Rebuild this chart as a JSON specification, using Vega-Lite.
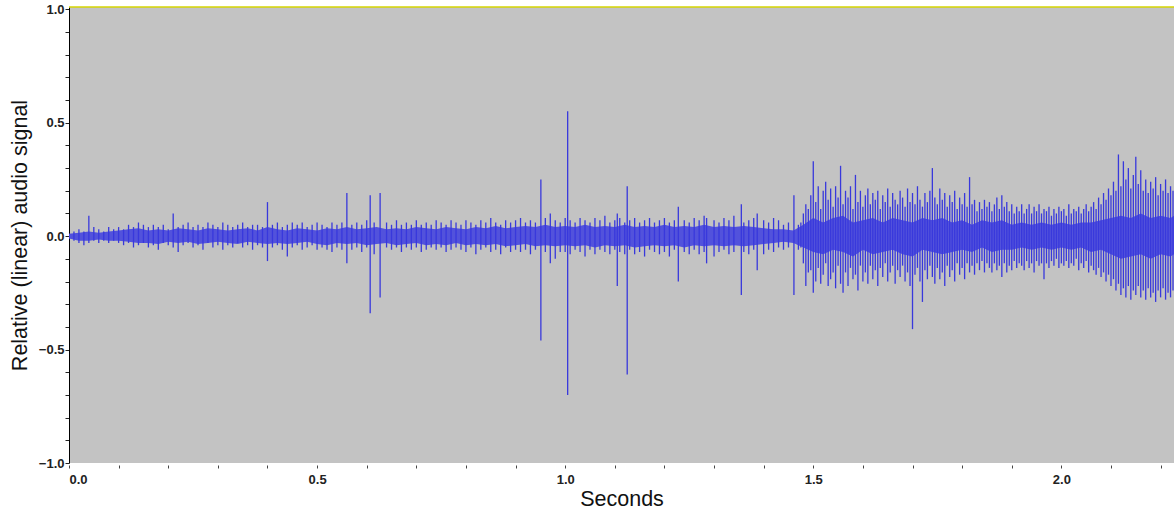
{
"$schema":"https://vega.github.io/schema/vega-lite/v6.json",
"width":1105,"height":456,
"autosize":{"type":"none"},
"padding":{"left":69,"top":7,"right":0,"bottom":52},
"background":"#ffffff",
"config":{"view":{"fill":"#c3c3c3","stroke":null}},
"datasets":{
"c":[
{"t":0.00,"hi":0.01,"lo":-0.01},{"t":0.02,"hi":0.015,"lo":-0.02},{"t":0.04,"hi":0.02,"lo":-0.02},{"t":0.06,"hi":0.015,"lo":-0.015},{"t":0.08,"hi":0.02,"lo":-0.02},{"t":0.10,"hi":0.025,"lo":-0.02},{"t":0.12,"hi":0.03,"lo":-0.025},{"t":0.14,"hi":0.035,"lo":-0.03},{"t":0.16,"hi":0.025,"lo":-0.03},{"t":0.18,"hi":0.03,"lo":-0.035},{"t":0.20,"hi":0.025,"lo":-0.025},{"t":0.22,"hi":0.035,"lo":-0.03},{"t":0.24,"hi":0.03,"lo":-0.025},{"t":0.26,"hi":0.025,"lo":-0.035},{"t":0.28,"hi":0.035,"lo":-0.03},{"t":0.30,"hi":0.03,"lo":-0.025},{"t":0.32,"hi":0.025,"lo":-0.03},{"t":0.34,"hi":0.03,"lo":-0.035},{"t":0.36,"hi":0.035,"lo":-0.025},{"t":0.38,"hi":0.025,"lo":-0.03},{"t":0.40,"hi":0.04,"lo":-0.035},{"t":0.42,"hi":0.03,"lo":-0.03},{"t":0.44,"hi":0.025,"lo":-0.035},{"t":0.46,"hi":0.035,"lo":-0.03},{"t":0.48,"hi":0.03,"lo":-0.025},{"t":0.50,"hi":0.025,"lo":-0.035},{"t":0.52,"hi":0.035,"lo":-0.04},{"t":0.54,"hi":0.03,"lo":-0.03},{"t":0.56,"hi":0.04,"lo":-0.035},{"t":0.58,"hi":0.03,"lo":-0.03},{"t":0.60,"hi":0.035,"lo":-0.04},{"t":0.62,"hi":0.04,"lo":-0.035},{"t":0.64,"hi":0.03,"lo":-0.03},{"t":0.66,"hi":0.035,"lo":-0.04},{"t":0.68,"hi":0.03,"lo":-0.035},{"t":0.70,"hi":0.04,"lo":-0.03},{"t":0.72,"hi":0.035,"lo":-0.04},{"t":0.74,"hi":0.03,"lo":-0.035},{"t":0.76,"hi":0.04,"lo":-0.04},{"t":0.78,"hi":0.035,"lo":-0.03},{"t":0.80,"hi":0.03,"lo":-0.04},{"t":0.82,"hi":0.04,"lo":-0.035},{"t":0.84,"hi":0.035,"lo":-0.04},{"t":0.86,"hi":0.045,"lo":-0.035},{"t":0.88,"hi":0.035,"lo":-0.045},{"t":0.90,"hi":0.04,"lo":-0.04},{"t":0.92,"hi":0.045,"lo":-0.035},{"t":0.94,"hi":0.04,"lo":-0.045},{"t":0.96,"hi":0.05,"lo":-0.04},{"t":0.98,"hi":0.04,"lo":-0.045},{"t":1.00,"hi":0.045,"lo":-0.04},{"t":1.02,"hi":0.04,"lo":-0.045},{"t":1.04,"hi":0.05,"lo":-0.04},{"t":1.06,"hi":0.04,"lo":-0.05},{"t":1.08,"hi":0.045,"lo":-0.04},{"t":1.10,"hi":0.04,"lo":-0.045},{"t":1.12,"hi":0.05,"lo":-0.04},{"t":1.14,"hi":0.04,"lo":-0.05},{"t":1.16,"hi":0.045,"lo":-0.045},{"t":1.18,"hi":0.04,"lo":-0.04},{"t":1.20,"hi":0.05,"lo":-0.045},{"t":1.22,"hi":0.04,"lo":-0.04},{"t":1.24,"hi":0.045,"lo":-0.05},{"t":1.26,"hi":0.04,"lo":-0.04},{"t":1.28,"hi":0.05,"lo":-0.045},{"t":1.30,"hi":0.04,"lo":-0.04},{"t":1.32,"hi":0.045,"lo":-0.045},{"t":1.34,"hi":0.04,"lo":-0.04},{"t":1.36,"hi":0.045,"lo":-0.045},{"t":1.38,"hi":0.04,"lo":-0.04},{"t":1.40,"hi":0.035,"lo":-0.035},{"t":1.42,"hi":0.03,"lo":-0.03},{"t":1.44,"hi":0.03,"lo":-0.025},{"t":1.46,"hi":0.025,"lo":-0.03},{"t":1.48,"hi":0.05,"lo":-0.05},{"t":1.50,"hi":0.08,"lo":-0.07},{"t":1.52,"hi":0.06,"lo":-0.08},{"t":1.54,"hi":0.08,"lo":-0.06},{"t":1.56,"hi":0.09,"lo":-0.07},{"t":1.58,"hi":0.06,"lo":-0.09},{"t":1.60,"hi":0.07,"lo":-0.06},{"t":1.62,"hi":0.08,"lo":-0.08},{"t":1.64,"hi":0.06,"lo":-0.07},{"t":1.66,"hi":0.08,"lo":-0.06},{"t":1.68,"hi":0.07,"lo":-0.08},{"t":1.70,"hi":0.06,"lo":-0.09},{"t":1.72,"hi":0.08,"lo":-0.06},{"t":1.74,"hi":0.07,"lo":-0.07},{"t":1.76,"hi":0.08,"lo":-0.08},{"t":1.78,"hi":0.06,"lo":-0.07},{"t":1.80,"hi":0.07,"lo":-0.06},{"t":1.82,"hi":0.05,"lo":-0.07},{"t":1.84,"hi":0.07,"lo":-0.05},{"t":1.86,"hi":0.06,"lo":-0.07},{"t":1.88,"hi":0.07,"lo":-0.06},{"t":1.90,"hi":0.05,"lo":-0.06},{"t":1.92,"hi":0.06,"lo":-0.05},{"t":1.94,"hi":0.05,"lo":-0.06},{"t":1.96,"hi":0.06,"lo":-0.05},{"t":1.98,"hi":0.05,"lo":-0.06},{"t":2.00,"hi":0.06,"lo":-0.05},{"t":2.02,"hi":0.05,"lo":-0.06},{"t":2.04,"hi":0.06,"lo":-0.05},{"t":2.06,"hi":0.06,"lo":-0.07},{"t":2.08,"hi":0.07,"lo":-0.06},{"t":2.10,"hi":0.08,"lo":-0.08},{"t":2.12,"hi":0.09,"lo":-0.10},{"t":2.14,"hi":0.08,"lo":-0.09},{"t":2.16,"hi":0.10,"lo":-0.08},{"t":2.18,"hi":0.08,"lo":-0.10},{"t":2.20,"hi":0.09,"lo":-0.08},{"t":2.22,"hi":0.08,"lo":-0.09},{"t":2.227,"hi":0.09,"lo":-0.08}
],
"w":[
{"t":0.00,"hi":0.01,"lo":-0.01},{"t":0.01,"hi":0.02,"lo":-0.02},{"t":0.02,"hi":0.03,"lo":-0.03},{"t":0.03,"hi":0.02,"lo":-0.04},{"t":0.04,"hi":0.09,"lo":-0.03},{"t":0.05,"hi":0.04,"lo":-0.02},{"t":0.06,"hi":0.03,"lo":-0.03},{"t":0.07,"hi":0.02,"lo":-0.02},{"t":0.08,"hi":0.04,"lo":-0.03},{"t":0.09,"hi":0.03,"lo":-0.02},
{"t":0.10,"hi":0.04,"lo":-0.03},{"t":0.11,"hi":0.03,"lo":-0.04},{"t":0.12,"hi":0.05,"lo":-0.03},{"t":0.13,"hi":0.04,"lo":-0.05},{"t":0.14,"hi":0.06,"lo":-0.04},{"t":0.15,"hi":0.05,"lo":-0.03},{"t":0.16,"hi":0.04,"lo":-0.05},{"t":0.17,"hi":0.05,"lo":-0.04},{"t":0.18,"hi":0.04,"lo":-0.06},{"t":0.19,"hi":0.05,"lo":-0.03},
{"t":0.20,"hi":0.03,"lo":-0.04},{"t":0.21,"hi":0.10,"lo":-0.05},{"t":0.22,"hi":0.04,"lo":-0.07},{"t":0.23,"hi":0.05,"lo":-0.04},{"t":0.24,"hi":0.06,"lo":-0.03},{"t":0.25,"hi":0.04,"lo":-0.05},{"t":0.26,"hi":0.05,"lo":-0.04},{"t":0.27,"hi":0.04,"lo":-0.06},{"t":0.28,"hi":0.06,"lo":-0.03},{"t":0.29,"hi":0.05,"lo":-0.05},
{"t":0.30,"hi":0.04,"lo":-0.04},{"t":0.31,"hi":0.06,"lo":-0.06},{"t":0.32,"hi":0.05,"lo":-0.04},{"t":0.33,"hi":0.04,"lo":-0.05},{"t":0.34,"hi":0.05,"lo":-0.03},{"t":0.35,"hi":0.06,"lo":-0.05},{"t":0.36,"hi":0.04,"lo":-0.04},{"t":0.37,"hi":0.05,"lo":-0.06},{"t":0.38,"hi":0.05,"lo":-0.04},{"t":0.39,"hi":0.04,"lo":-0.05},
{"t":0.40,"hi":0.15,"lo":-0.11},{"t":0.41,"hi":0.05,"lo":-0.05},{"t":0.42,"hi":0.06,"lo":-0.04},{"t":0.43,"hi":0.04,"lo":-0.06},{"t":0.44,"hi":0.05,"lo":-0.09},{"t":0.45,"hi":0.06,"lo":-0.05},{"t":0.46,"hi":0.05,"lo":-0.04},{"t":0.47,"hi":0.06,"lo":-0.06},{"t":0.48,"hi":0.04,"lo":-0.05},{"t":0.49,"hi":0.05,"lo":-0.04},
{"t":0.50,"hi":0.06,"lo":-0.06},{"t":0.51,"hi":0.05,"lo":-0.05},{"t":0.52,"hi":0.04,"lo":-0.06},{"t":0.53,"hi":0.06,"lo":-0.07},{"t":0.54,"hi":0.05,"lo":-0.05},{"t":0.55,"hi":0.06,"lo":-0.06},{"t":0.56,"hi":0.19,"lo":-0.12},{"t":0.57,"hi":0.05,"lo":-0.06},{"t":0.58,"hi":0.06,"lo":-0.05},{"t":0.59,"hi":0.05,"lo":-0.07},
{"t":0.60,"hi":0.07,"lo":-0.05},{"t":0.607,"hi":0.18,"lo":-0.34},{"t":0.615,"hi":0.06,"lo":-0.08},{"t":0.627,"hi":0.19,"lo":-0.27},{"t":0.64,"hi":0.06,"lo":-0.05},{"t":0.65,"hi":0.05,"lo":-0.06},{"t":0.66,"hi":0.07,"lo":-0.05},{"t":0.67,"hi":0.05,"lo":-0.07},{"t":0.68,"hi":0.06,"lo":-0.05},{"t":0.69,"hi":0.05,"lo":-0.06},
{"t":0.70,"hi":0.07,"lo":-0.05},{"t":0.71,"hi":0.05,"lo":-0.07},{"t":0.72,"hi":0.06,"lo":-0.06},{"t":0.73,"hi":0.05,"lo":-0.05},{"t":0.74,"hi":0.07,"lo":-0.06},{"t":0.75,"hi":0.06,"lo":-0.05},{"t":0.76,"hi":0.05,"lo":-0.07},{"t":0.77,"hi":0.07,"lo":-0.06},{"t":0.78,"hi":0.06,"lo":-0.05},{"t":0.79,"hi":0.05,"lo":-0.06},
{"t":0.80,"hi":0.07,"lo":-0.07},{"t":0.81,"hi":0.06,"lo":-0.05},{"t":0.82,"hi":0.05,"lo":-0.08},{"t":0.83,"hi":0.07,"lo":-0.06},{"t":0.84,"hi":0.06,"lo":-0.05},{"t":0.85,"hi":0.08,"lo":-0.07},{"t":0.86,"hi":0.06,"lo":-0.06},{"t":0.87,"hi":0.05,"lo":-0.08},{"t":0.88,"hi":0.07,"lo":-0.05},{"t":0.89,"hi":0.06,"lo":-0.07},
{"t":0.90,"hi":0.07,"lo":-0.06},{"t":0.91,"hi":0.08,"lo":-0.07},{"t":0.92,"hi":0.06,"lo":-0.06},{"t":0.93,"hi":0.07,"lo":-0.08},{"t":0.94,"hi":0.06,"lo":-0.06},{"t":0.951,"hi":0.25,"lo":-0.46},{"t":0.96,"hi":0.08,"lo":-0.07},{"t":0.97,"hi":0.10,"lo":-0.12},{"t":0.98,"hi":0.07,"lo":-0.10},{"t":0.99,"hi":0.06,"lo":-0.07},
{"t":1.00,"hi":0.08,"lo":-0.07},{"t":1.005,"hi":0.55,"lo":-0.70},{"t":1.01,"hi":0.07,"lo":-0.08},{"t":1.02,"hi":0.06,"lo":-0.06},{"t":1.03,"hi":0.08,"lo":-0.07},{"t":1.04,"hi":0.07,"lo":-0.09},{"t":1.05,"hi":0.06,"lo":-0.06},{"t":1.06,"hi":0.08,"lo":-0.08},{"t":1.07,"hi":0.07,"lo":-0.06},{"t":1.08,"hi":0.09,"lo":-0.07},
{"t":1.09,"hi":0.06,"lo":-0.08},{"t":1.10,"hi":0.07,"lo":-0.06},{"t":1.105,"hi":0.10,"lo":-0.22},{"t":1.11,"hi":0.08,"lo":-0.07},{"t":1.12,"hi":0.06,"lo":-0.08},{"t":1.125,"hi":0.22,"lo":-0.61},{"t":1.13,"hi":0.07,"lo":-0.06},{"t":1.14,"hi":0.08,"lo":-0.08},{"t":1.15,"hi":0.06,"lo":-0.07},{"t":1.16,"hi":0.07,"lo":-0.09},
{"t":1.17,"hi":0.08,"lo":-0.06},{"t":1.18,"hi":0.06,"lo":-0.07},{"t":1.19,"hi":0.07,"lo":-0.08},{"t":1.20,"hi":0.08,"lo":-0.07},{"t":1.21,"hi":0.06,"lo":-0.09},{"t":1.22,"hi":0.07,"lo":-0.06},{"t":1.228,"hi":0.13,"lo":-0.20},{"t":1.24,"hi":0.07,"lo":-0.07},{"t":1.25,"hi":0.06,"lo":-0.08},{"t":1.26,"hi":0.08,"lo":-0.06},
{"t":1.27,"hi":0.07,"lo":-0.08},{"t":1.28,"hi":0.09,"lo":-0.07},{"t":1.285,"hi":0.08,"lo":-0.12},{"t":1.30,"hi":0.07,"lo":-0.09},{"t":1.31,"hi":0.06,"lo":-0.07},{"t":1.32,"hi":0.08,"lo":-0.06},{"t":1.33,"hi":0.07,"lo":-0.08},{"t":1.34,"hi":0.09,"lo":-0.07},{"t":1.355,"hi":0.14,"lo":-0.26},{"t":1.36,"hi":0.06,"lo":-0.07},
{"t":1.37,"hi":0.07,"lo":-0.08},{"t":1.38,"hi":0.08,"lo":-0.06},{"t":1.387,"hi":0.10,"lo":-0.15},{"t":1.40,"hi":0.07,"lo":-0.08},{"t":1.41,"hi":0.06,"lo":-0.06},{"t":1.42,"hi":0.08,"lo":-0.07},{"t":1.43,"hi":0.07,"lo":-0.05},{"t":1.44,"hi":0.05,"lo":-0.06},{"t":1.45,"hi":0.06,"lo":-0.05},{"t":1.461,"hi":0.18,"lo":-0.26},
{"t":1.47,"hi":0.05,"lo":-0.06},{"t":1.475,"hi":0.06,"lo":-0.05},{"t":1.480,"hi":0.10,"lo":-0.12},{"t":1.485,"hi":0.14,"lo":-0.22},{"t":1.490,"hi":0.12,"lo":-0.16},{"t":1.495,"hi":0.18,"lo":-0.15},{"t":1.500,"hi":0.33,"lo":-0.25},{"t":1.505,"hi":0.15,"lo":-0.20},{"t":1.510,"hi":0.22,"lo":-0.14},{"t":1.515,"hi":0.12,"lo":-0.21},
{"t":1.520,"hi":0.20,"lo":-0.17},{"t":1.525,"hi":0.24,"lo":-0.12},{"t":1.530,"hi":0.16,"lo":-0.22},{"t":1.535,"hi":0.21,"lo":-0.19},{"t":1.540,"hi":0.13,"lo":-0.16},{"t":1.545,"hi":0.22,"lo":-0.23},{"t":1.550,"hi":0.17,"lo":-0.13},{"t":1.555,"hi":0.31,"lo":-0.21},{"t":1.560,"hi":0.14,"lo":-0.25},{"t":1.565,"hi":0.20,"lo":-0.16},
{"t":1.570,"hi":0.17,"lo":-0.22},{"t":1.575,"hi":0.22,"lo":-0.14},{"t":1.580,"hi":0.12,"lo":-0.19},{"t":1.585,"hi":0.27,"lo":-0.17},{"t":1.590,"hi":0.15,"lo":-0.24},{"t":1.595,"hi":0.20,"lo":-0.13},{"t":1.600,"hi":0.13,"lo":-0.20},{"t":1.605,"hi":0.18,"lo":-0.16},{"t":1.610,"hi":0.21,"lo":-0.21},{"t":1.615,"hi":0.14,"lo":-0.13},
{"t":1.620,"hi":0.19,"lo":-0.19},{"t":1.625,"hi":0.16,"lo":-0.15},{"t":1.630,"hi":0.20,"lo":-0.22},{"t":1.635,"hi":0.12,"lo":-0.14},{"t":1.640,"hi":0.18,"lo":-0.18},{"t":1.645,"hi":0.15,"lo":-0.12},{"t":1.650,"hi":0.21,"lo":-0.20},{"t":1.655,"hi":0.13,"lo":-0.16},{"t":1.660,"hi":0.19,"lo":-0.13},{"t":1.665,"hi":0.16,"lo":-0.21},
{"t":1.670,"hi":0.14,"lo":-0.15},{"t":1.675,"hi":0.20,"lo":-0.18},{"t":1.680,"hi":0.17,"lo":-0.13},{"t":1.685,"hi":0.13,"lo":-0.20},{"t":1.690,"hi":0.21,"lo":-0.16},{"t":1.695,"hi":0.15,"lo":-0.22},{"t":1.700,"hi":0.19,"lo":-0.41},{"t":1.705,"hi":0.14,"lo":-0.17},{"t":1.710,"hi":0.22,"lo":-0.14},{"t":1.715,"hi":0.16,"lo":-0.20},
{"t":1.720,"hi":0.13,"lo":-0.29},{"t":1.725,"hi":0.19,"lo":-0.15},{"t":1.730,"hi":0.15,"lo":-0.19},{"t":1.735,"hi":0.20,"lo":-0.13},{"t":1.740,"hi":0.30,"lo":-0.18},{"t":1.745,"hi":0.17,"lo":-0.21},{"t":1.750,"hi":0.14,"lo":-0.14},{"t":1.755,"hi":0.21,"lo":-0.19},{"t":1.760,"hi":0.16,"lo":-0.16},{"t":1.765,"hi":0.19,"lo":-0.22},
{"t":1.770,"hi":0.13,"lo":-0.13},{"t":1.775,"hi":0.18,"lo":-0.18},{"t":1.780,"hi":0.15,"lo":-0.15},{"t":1.785,"hi":0.20,"lo":-0.20},{"t":1.790,"hi":0.12,"lo":-0.12},{"t":1.795,"hi":0.17,"lo":-0.17},{"t":1.800,"hi":0.14,"lo":-0.14},{"t":1.805,"hi":0.19,"lo":-0.19},{"t":1.810,"hi":0.13,"lo":-0.12},{"t":1.815,"hi":0.26,"lo":-0.16},
{"t":1.820,"hi":0.14,"lo":-0.13},{"t":1.825,"hi":0.16,"lo":-0.17},{"t":1.830,"hi":0.11,"lo":-0.12},{"t":1.835,"hi":0.15,"lo":-0.15},{"t":1.840,"hi":0.12,"lo":-0.11},{"t":1.845,"hi":0.16,"lo":-0.16},{"t":1.850,"hi":0.13,"lo":-0.12},{"t":1.855,"hi":0.15,"lo":-0.14},{"t":1.860,"hi":0.11,"lo":-0.16},{"t":1.865,"hi":0.14,"lo":-0.12},
{"t":1.870,"hi":0.17,"lo":-0.15},{"t":1.875,"hi":0.12,"lo":-0.13},{"t":1.880,"hi":0.18,"lo":-0.18},{"t":1.885,"hi":0.13,"lo":-0.12},{"t":1.890,"hi":0.15,"lo":-0.16},{"t":1.895,"hi":0.11,"lo":-0.13},{"t":1.900,"hi":0.14,"lo":-0.15},{"t":1.905,"hi":0.10,"lo":-0.11},{"t":1.910,"hi":0.13,"lo":-0.14},{"t":1.915,"hi":0.11,"lo":-0.12},
{"t":1.920,"hi":0.14,"lo":-0.13},{"t":1.925,"hi":0.10,"lo":-0.15},{"t":1.930,"hi":0.12,"lo":-0.11},{"t":1.935,"hi":0.14,"lo":-0.14},{"t":1.940,"hi":0.10,"lo":-0.12},{"t":1.945,"hi":0.13,"lo":-0.16},{"t":1.950,"hi":0.11,"lo":-0.11},{"t":1.955,"hi":0.14,"lo":-0.13},{"t":1.960,"hi":0.10,"lo":-0.12},{"t":1.965,"hi":0.12,"lo":-0.19},
{"t":1.970,"hi":0.11,"lo":-0.12},{"t":1.975,"hi":0.13,"lo":-0.14},{"t":1.980,"hi":0.09,"lo":-0.11},{"t":1.985,"hi":0.12,"lo":-0.13},{"t":1.990,"hi":0.10,"lo":-0.10},{"t":1.995,"hi":0.13,"lo":-0.14},{"t":2.000,"hi":0.11,"lo":-0.12},{"t":2.005,"hi":0.12,"lo":-0.13},{"t":2.010,"hi":0.09,"lo":-0.11},{"t":2.015,"hi":0.14,"lo":-0.14},
{"t":2.020,"hi":0.10,"lo":-0.12},{"t":2.025,"hi":0.12,"lo":-0.13},{"t":2.030,"hi":0.11,"lo":-0.10},{"t":2.035,"hi":0.13,"lo":-0.15},{"t":2.040,"hi":0.10,"lo":-0.12},{"t":2.045,"hi":0.12,"lo":-0.14},{"t":2.050,"hi":0.14,"lo":-0.11},{"t":2.055,"hi":0.11,"lo":-0.16},{"t":2.060,"hi":0.13,"lo":-0.13},{"t":2.065,"hi":0.15,"lo":-0.15},
{"t":2.070,"hi":0.12,"lo":-0.17},{"t":2.075,"hi":0.17,"lo":-0.14},{"t":2.080,"hi":0.14,"lo":-0.18},{"t":2.085,"hi":0.19,"lo":-0.16},{"t":2.090,"hi":0.16,"lo":-0.20},{"t":2.095,"hi":0.21,"lo":-0.17},{"t":2.100,"hi":0.18,"lo":-0.22},{"t":2.105,"hi":0.24,"lo":-0.19},{"t":2.110,"hi":0.20,"lo":-0.24},{"t":2.115,"hi":0.36,"lo":-0.21},
{"t":2.120,"hi":0.22,"lo":-0.26},{"t":2.125,"hi":0.33,"lo":-0.23},{"t":2.130,"hi":0.25,"lo":-0.27},{"t":2.135,"hi":0.30,"lo":-0.22},{"t":2.140,"hi":0.21,"lo":-0.28},{"t":2.145,"hi":0.27,"lo":-0.24},{"t":2.150,"hi":0.35,"lo":-0.26},{"t":2.155,"hi":0.23,"lo":-0.22},{"t":2.160,"hi":0.29,"lo":-0.27},{"t":2.165,"hi":0.20,"lo":-0.24},
{"t":2.170,"hi":0.25,"lo":-0.28},{"t":2.175,"hi":0.19,"lo":-0.23},{"t":2.180,"hi":0.24,"lo":-0.27},{"t":2.185,"hi":0.21,"lo":-0.25},{"t":2.190,"hi":0.26,"lo":-0.29},{"t":2.195,"hi":0.18,"lo":-0.24},{"t":2.200,"hi":0.23,"lo":-0.27},{"t":2.205,"hi":0.20,"lo":-0.23},{"t":2.210,"hi":0.25,"lo":-0.28},{"t":2.215,"hi":0.19,"lo":-0.25},
{"t":2.220,"hi":0.22,"lo":-0.27},{"t":2.225,"hi":0.20,"lo":-0.24}
]},
"encoding":{
"x":{"field":"t","type":"quantitative","scale":{"domain":[0,2.227],"nice":false,"zero":false},
"axis":{"title":"Seconds","values":[0,0.1,0.2,0.3,0.4,0.5,0.6,0.7,0.8,0.9,1.0,1.1,1.2,1.3,1.4,1.5,1.6,1.7,1.8,1.9,2.0,2.1,2.2],
"labelExpr":"abs(datum.value*2 - round(datum.value*2)) < 0.001 ? format(datum.value, '.1f') : ''",
"labelOverlap":false,"labelFont":"Liberation Sans","labelFontWeight":"bold","labelFontSize":13,"labelColor":"#222222",
"titleFont":"Liberation Sans","titleFontWeight":"normal","titleFontSize":21.5,"titleColor":"#111111",
"grid":false,"domain":false,"offset":2,"tickColor":"#444444","tickSize":3,"labelPadding":5,"titlePadding":2}},
"y":{"field":"hi","type":"quantitative","scale":{"domain":[-1,1.01],"nice":false,"zero":false},
"axis":{"title":"Relative (linear) audio signal","values":[-1,-0.9,-0.8,-0.7,-0.6,-0.5,-0.4,-0.3,-0.2,-0.1,0,0.1,0.2,0.3,0.4,0.5,0.6,0.7,0.8,0.9,1.0],
"labelExpr":"abs(datum.value*2 - round(datum.value*2)) < 0.001 ? format(datum.value, '.1f') : ''",
"labelOverlap":false,"labelFont":"Liberation Sans","labelFontWeight":"bold","labelFontSize":13,"labelColor":"#222222",
"titleFont":"Liberation Sans","titleFontWeight":"normal","titleFontSize":21.5,"titleColor":"#111111",
"grid":false,"domainColor":"#000000","domainWidth":1,"tickColor":"#222222","tickSize":4,
"labelPadding":1,"titlePadding":7}}},
"layer":[
{"data":{"name":"c"},"mark":{"type":"area","color":"#5252dc","opacity":1,"clip":true},
"encoding":{"y2":{"field":"lo"}}},
{"data":{"name":"w"},"mark":{"type":"rule","color":"#3838dc","strokeWidth":1.3,"clip":true},
"encoding":{"y2":{"field":"lo"}}},
{"data":{"name":"c"},"mark":{"type":"line","color":"#d4d400","strokeWidth":1.5,"clip":false},
"encoding":{"y":{"datum":1.01,"type":"quantitative","scale":{"domain":[-1,1.01],"nice":false,"zero":false},
"axis":{"title":"Relative (linear) audio signal","values":[-1,-0.9,-0.8,-0.7,-0.6,-0.5,-0.4,-0.3,-0.2,-0.1,0,0.1,0.2,0.3,0.4,0.5,0.6,0.7,0.8,0.9,1.0],
"labelExpr":"abs(datum.value*2 - round(datum.value*2)) < 0.001 ? format(datum.value, '.1f') : ''",
"labelOverlap":false,"labelFont":"Liberation Sans","labelFontWeight":"bold","labelFontSize":13,"labelColor":"#222222",
"titleFont":"Liberation Sans","titleFontWeight":"normal","titleFontSize":21.5,"titleColor":"#111111",
"grid":false,"domainColor":"#000000","domainWidth":1,"tickColor":"#222222","tickSize":4,
"labelPadding":1,"titlePadding":7}}}}
]
}
